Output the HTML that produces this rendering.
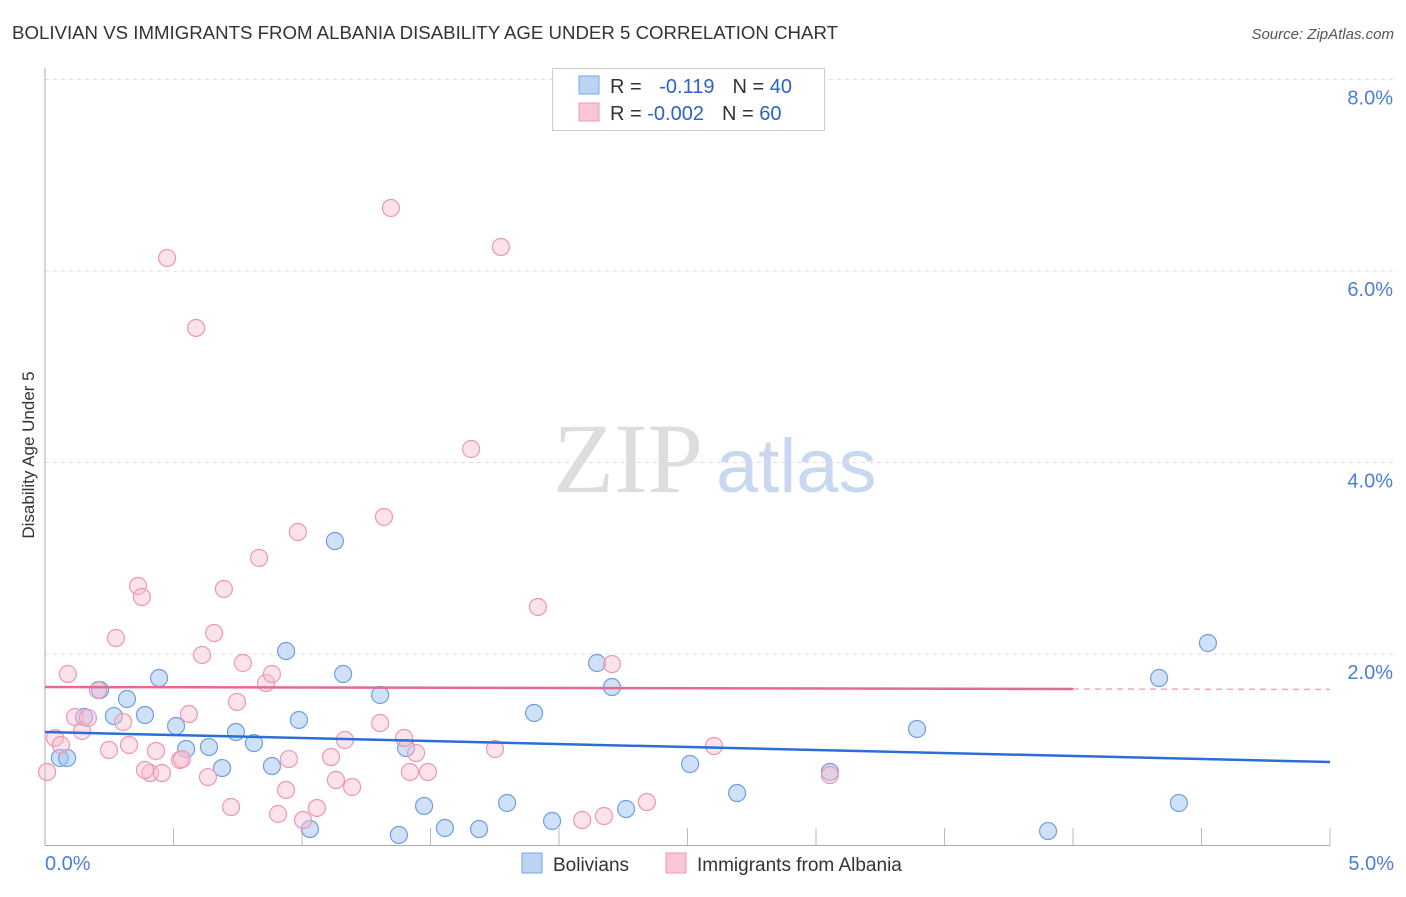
<!DOCTYPE html>
<html><head><meta charset="utf-8"><style>
body{margin:0;background:#fff;font-family:"Liberation Sans",sans-serif}
</style></head><body>
<svg id="c" width="1406" height="892" xmlns="http://www.w3.org/2000/svg">
<text x="12" y="39" font-size="18" fill="#333" textLength="826" lengthAdjust="spacingAndGlyphs">BOLIVIAN VS IMMIGRANTS FROM ALBANIA DISABILITY AGE UNDER 5 CORRELATION CHART</text>
<text x="1394" y="39" font-size="15" fill="#555" font-style="italic" text-anchor="end">Source: ZipAtlas.com</text>
<text x="34" y="455" font-size="17" fill="#333" text-anchor="middle" transform="rotate(-90 34 455)">Disability Age Under 5</text>
<text x="553" y="492" font-size="100" fill="#ddd" font-family="Liberation Serif,serif">ZIP</text>
<text x="716" y="492" font-size="76" fill="#c8d8f0">atlas</text>
<g id="grid"></g><g id="marks"></g>
<g>
<rect x="552.5" y="68.5" width="272" height="62" fill="#fff" stroke="#ccc"/>
<rect x="579" y="76" width="20" height="18" fill="#bcd4f4" stroke="#7aa6e6"/>
<rect x="579" y="103" width="20" height="18" fill="#f9c6d6" stroke="#ec98b4"/>
<text x="610" y="93" font-size="20" fill="#333">R = <tspan fill="#2a64c8" dx="12">-0.119</tspan><tspan fill="#333" dx="18">N = </tspan><tspan fill="#2a64c8">40</tspan></text>
<text x="610" y="120" font-size="20" fill="#333">R = <tspan fill="#2a64c8">-0.002</tspan><tspan fill="#333" dx="18">N = </tspan><tspan fill="#2a64c8">60</tspan></text>
</g>
<g>
<rect x="522" y="853" width="20" height="20" fill="#bcd4f4" stroke="#7aa6e6"/>
<text x="553" y="871" font-size="19" fill="#333">Bolivians</text>
<rect x="666" y="853" width="20" height="20" fill="#f9c6d6" stroke="#ec98b4"/>
<text x="697" y="871" font-size="19" fill="#333">Immigrants from Albania</text>
</g>
</svg>
<script>
const yTicks=[2,4,6,8];
const yTickLabels=["2.0%","4.0%","6.0%","8.0%"];
const blueX=[0.058,0.086,0.214,0.319,0.152,0.268,0.389,0.444,0.510,0.549,0.638,0.689,0.743,0.813,0.883,0.938,0.988,1.031,1.128,1.160,1.304,1.377,1.405,1.475,1.556,1.689,1.798,1.903,1.973,2.148,2.206,2.261,2.510,2.693,3.054,3.393,3.903,4.335,4.412,4.525];
const blueY=[0.914,0.914,1.624,1.530,1.342,1.352,1.363,1.749,1.248,1.008,1.029,0.809,1.185,1.070,0.830,2.031,1.311,0.172,3.180,1.791,1.572,0.110,1.018,0.413,0.183,0.172,0.444,1.384,0.256,1.906,1.655,0.381,0.851,0.548,0.768,1.217,0.151,1.749,0.444,2.115];
const pinkX=[0.008,0.039,0.062,0.089,0.117,0.144,0.167,0.206,0.249,0.276,0.304,0.327,0.362,0.377,0.409,0.432,0.455,0.475,0.525,0.533,0.560,0.588,0.611,0.634,0.658,0.696,0.724,0.747,0.770,0.833,0.860,0.883,0.907,0.938,0.949,0.984,1.004,1.058,1.113,1.132,1.167,1.195,1.304,1.319,1.346,1.397,1.420,1.444,1.490,1.658,1.751,1.774,1.918,2.090,2.175,2.206,2.342,2.603,3.054,0.389];
const pinkY=[0.768,1.123,1.050,1.791,1.342,1.196,1.332,1.624,0.997,2.167,1.290,1.050,2.710,2.595,0.757,0.987,0.757,6.136,0.893,0.903,1.373,5.405,1.990,0.715,2.219,2.679,0.402,1.499,1.906,3.003,1.697,1.791,0.329,0.580,0.903,3.274,0.266,0.392,0.924,0.684,1.102,0.611,1.279,3.431,6.658,1.123,0.768,0.966,0.768,4.141,1.008,6.251,2.491,0.266,0.308,1.895,0.454,1.039,0.736,0.789];
const blueTrend=[1.185,0.872];
const pinkTrend=[1.655,1.635,1.63];
const X0=45,X1=1330,Y0=845.5,PPU=95.75;
const sx=v=>X0+(v/5)*(X1-X0), sy=v=>Y0-v*PPU;
const NS="http://www.w3.org/2000/svg";
function mk(p,t,a){const e=document.createElementNS(NS,t);for(const k in a)e.setAttribute(k,a[k]);p.appendChild(e);return e;}
const g=document.getElementById('grid'), m=document.getElementById('marks');
yTicks.forEach((v,i)=>{
 const l=mk(g,'line',{x1:X0,x2:1394,y1:sy(v),y2:sy(v),stroke:'#ddd','stroke-dasharray':'4 4'});
 
 
 const t=mk(g,'text',{x:1393,y:sy(v)+25,'font-size':20,fill:'#4a7fd4','text-anchor':'end'});t.textContent=yTickLabels[i];
 
 
});
mk(g,'line',{x1:X0,x2:X0,y1:68,y2:Y0,stroke:'#aaa'});
mk(g,'line',{x1:X0,x2:X1,y1:Y0,y2:Y0,stroke:'#aaa'});
for(let i=1;i<=10;i++){const l=mk(g,'line',{x1:sx(i*0.5),x2:sx(i*0.5),y1:Y0,y2:828,stroke:'#bbb'});
 
 }
const xl0=mk(g,'text',{x:45,y:870,'font-size':20,fill:'#4a7fd4'});xl0.textContent='0.0%';


const xl1=mk(g,'text',{x:1394,y:870,'font-size':20,fill:'#4a7fd4','text-anchor':'end'});xl1.textContent='5.0%';


blueX.forEach((x,i)=>{const c=mk(m,'circle',{cx:sx(x),cy:sy(blueY[i]),r:8.5,fill:'rgba(160,196,240,0.5)',stroke:'#6f9fe0','stroke-width':1.2});
 
 });
pinkX.forEach((x,i)=>{const c=mk(m,'circle',{cx:sx(x),cy:sy(pinkY[i]),r:8.5,fill:'rgba(248,190,208,0.45)',stroke:'#ec98b4','stroke-width':1.2});
 
 });
const bl=mk(m,'line',{x1:sx(0),x2:sx(5),y1:sy(blueTrend[0]),y2:sy(blueTrend[1]),stroke:'#2a6fd6','stroke-width':2.5});


const pl=mk(m,'line',{x1:sx(0),x2:sx(4),y1:sy(pinkTrend[0]),y2:sy(pinkTrend[1]),stroke:'#e46a92','stroke-width':2.5});


const pd=mk(m,'line',{x1:sx(4),x2:sx(5),y1:sy(pinkTrend[1]),y2:sy(pinkTrend[2]),stroke:'#f0a8c0','stroke-width':1.5,'stroke-dasharray':'6 5'});


</script>
</body></html>
